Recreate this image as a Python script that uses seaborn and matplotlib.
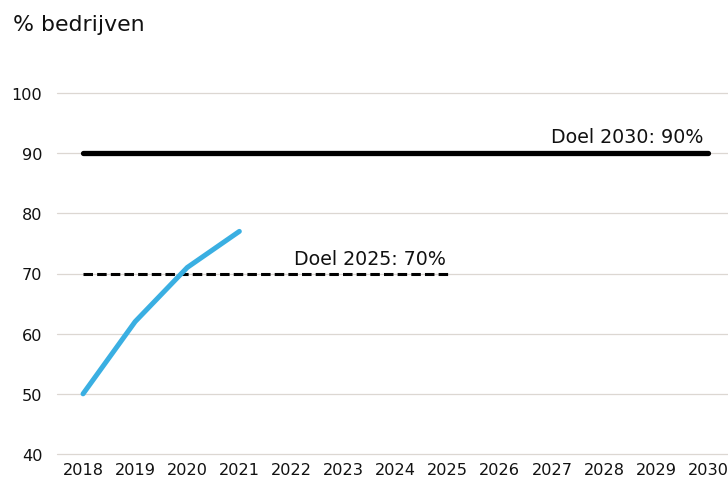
import matplotlib
matplotlib.use("Agg")
import matplotlib.pyplot as plt
import seaborn as sns
import pandas as pd

years_all = list(range(2018, 2031))
actual_years = [2018, 2019, 2020, 2021]
actual_values = [50, 62, 71, 77]
goal2025_years = [2018, 2025]
goal2025_values = [70, 70]
goal2030_years = [2018, 2030]
goal2030_values = [90, 90]
y_ticks = [40, 50, 60, 70, 80, 90, 100]
title = "% bedrijven"
label2025 = "Doel 2025: 70%"
label2030 = "Doel 2030: 90%"

sns.set_theme(style="white")
plt.rcParams['font.family'] = ['DejaVu Sans']

fig = plt.figure(figsize=(7.28, 4.85), dpi=100)
ax = fig.add_axes([57/728, 30/485, 1 - 57/728, (455-94)/485])

grid_color = "#dcd7d2"
for y in y_ticks:
    ax.axhline(y, color=grid_color, lw=0.9, zorder=0, clip_on=False)

df_actual = pd.DataFrame({"jaar": actual_years, "waarde": actual_values})
df_2025 = pd.DataFrame({"jaar": goal2025_years, "waarde": goal2025_values})
df_2030 = pd.DataFrame({"jaar": goal2030_years, "waarde": goal2030_values})

sns.lineplot(data=df_2030, x="jaar", y="waarde", ax=ax, color="black",
             lw=3.8, solid_capstyle="round", zorder=3)
l25 = sns.lineplot(data=df_2025, x="jaar", y="waarde", ax=ax, color="black",
                   lw=2.2, zorder=3).lines[-1]
l25.set_dashes((3.109, 1.361))
l25.set_dash_capstyle("butt")
sns.lineplot(data=df_actual, x="jaar", y="waarde", ax=ax, color="#3aafe2",
             lw=3.6, solid_capstyle="round", zorder=4)

ax.text(2025 - 0.03, 71.5, label2025, ha="right", va="baseline", fontsize=13.7, color="#111111")
ax.text(2030 - 0.1, 91.8, label2030, ha="right", va="baseline", fontsize=13.7, color="#111111")

ax.set_xlim(2017.5, 2030.38)
ax.set_ylim(40, 100)
ax.set_xticks(years_all)
ax.set_xticklabels([str(y) for y in years_all])
ax.set_yticks(y_ticks)
ax.tick_params(axis="both", labelsize=11.6, length=0, colors="#111111")
ax.tick_params(axis="y", pad=10.5)
ax.tick_params(axis="x", pad=6)
ax.set_xlabel("")
ax.set_ylabel("")
for s in ax.spines.values():
    s.set_visible(False)
ax.grid(False)

fig.text(13/728, 1 - 25/485, title, ha="left", va="center", fontsize=15.8, color="#111111")

fig.savefig("out.png", dpi=100, facecolor="white")
